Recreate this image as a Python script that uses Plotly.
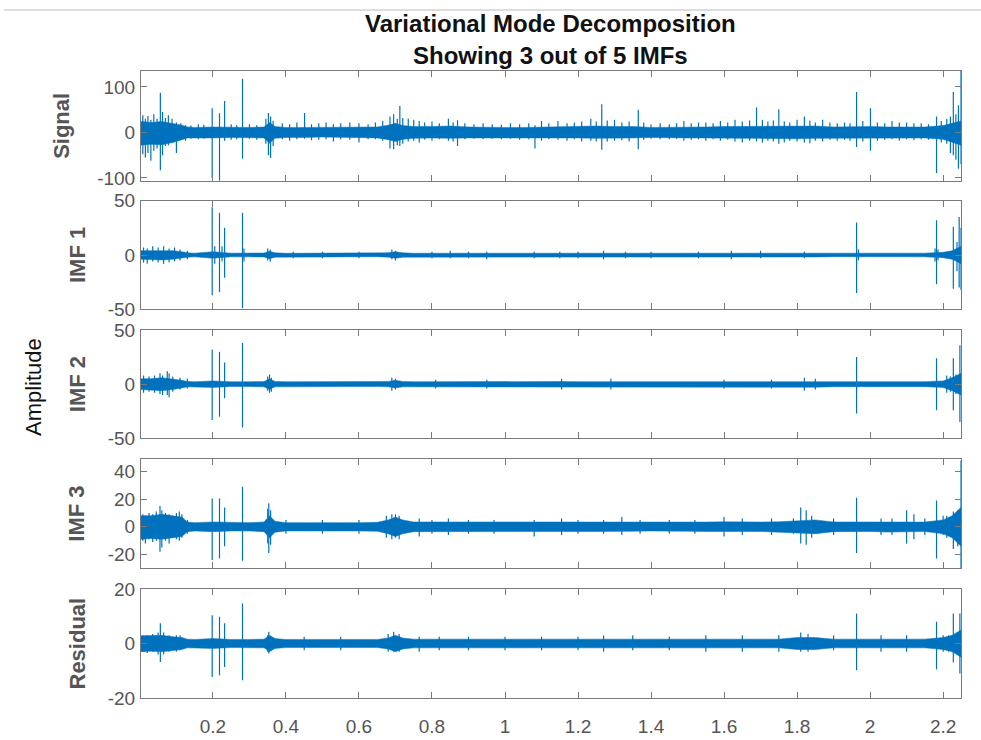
import plotly.graph_objects as go

# ---------------------------------------------------------------------------
# Data: envelope of the dense part of each component (sampled on t_env) and
# the isolated excursions (time, upper value, lower value).
# ---------------------------------------------------------------------------
t_env = [0.003, 0.03, 0.06, 0.09, 0.115, 0.13,
         0.15, 0.2, 0.25, 0.3,
         0.34, 0.355, 0.37,
         0.4, 0.45, 0.5, 0.55, 0.6, 0.65,
         0.68, 0.7, 0.72,
         0.75, 0.8, 0.85, 0.9, 0.95, 1.0, 1.05, 1.1, 1.15, 1.2, 1.25, 1.3, 1.35, 1.4, 1.45,
         1.5, 1.55, 1.6, 1.65, 1.7, 1.75, 1.8, 1.85, 1.9, 1.95, 2.0, 2.05, 2.1, 2.15,
         2.2, 2.225, 2.249]

sig_hi = [24, 22, 24, 20, 16, 12,
          11, 12, 11, 11,
          12, 22, 13,
          11, 11, 11, 11, 11, 12,
          16, 20, 15,
          13, 13, 14, 12, 11, 11, 11, 12, 12, 13, 14, 13, 13, 11, 11,
          12, 12, 13, 13, 14, 14, 14, 14, 12, 13, 13, 12, 12, 12,
          15, 20, 25]
sig_lo = [-28, -26, -27, -22, -16, -12,
          -11, -12, -11, -11,
          -12, -24, -13,
          -11, -11, -10, -11, -11, -12,
          -16, -20, -15,
          -13, -12, -13, -12, -11, -11, -11, -12, -12, -12, -13, -13, -12, -11, -11,
          -12, -12, -12, -13, -13, -13, -14, -13, -12, -12, -13, -12, -12, -12,
          -15, -22, -28]

imf1_hi = [4, 4, 4.5, 4, 3, 2,
           1.7, 3, 1.7, 1.7,
           1.8, 3.5, 2,
           1.6, 1.6, 1.6, 1.6, 1.6, 1.6,
           2, 3, 2,
           1.6, 1.6, 1.7, 1.6, 1.6, 1.6, 1.6, 1.6, 1.6, 1.6, 1.7, 1.7, 1.6, 1.6, 1.6,
           1.6, 1.6, 1.7, 1.7, 1.7, 1.7, 1.8, 1.8, 1.6, 1.8, 1.7, 1.6, 1.6, 1.7,
           2.5, 4, 8]
imf1_lo = [-4, -4.5, -4.5, -4, -3, -2,
           -1.7, -3, -1.7, -1.7,
           -1.8, -3.5, -2,
           -1.6, -1.6, -1.6, -1.6, -1.6, -1.6,
           -2, -3, -2,
           -1.6, -1.6, -1.7, -1.6, -1.6, -1.6, -1.6, -1.6, -1.6, -1.6, -1.7, -1.7, -1.6, -1.6, -1.6,
           -1.6, -1.6, -1.7, -1.7, -1.7, -1.7, -1.8, -1.8, -1.6, -1.8, -1.7, -1.6, -1.6, -1.7,
           -2.5, -4, -8]

imf2_hi = [5, 5, 6, 5, 3.5, 2.5,
           2.2, 3, 2.2, 2.2,
           2.5, 5, 2.5,
           2.2, 2.2, 2.2, 2.2, 2.2, 2.2,
           2.5, 3.5, 2.5,
           2.2, 2.3, 2.2, 2.2, 2.2, 2.2, 2.2, 2.3, 2.4, 2.3, 2.3, 2.4, 2.2, 2.2, 2.2,
           2.3, 2.3, 2.4, 2.4, 2.4, 2.4, 2.8, 2.8, 2.4, 2.4, 2.3, 2.2, 2.2, 2.3,
           3, 6, 10]
imf2_lo = [-5, -5.5, -6, -5, -3.5, -2.5,
           -2.2, -3, -2.2, -2.2,
           -2.5, -5, -2.5,
           -2.2, -2.2, -2.2, -2.2, -2.2, -2.2,
           -2.5, -3.5, -2.5,
           -2.2, -2.3, -2.2, -2.2, -2.2, -2.2, -2.2, -2.3, -2.4, -2.3, -2.3, -2.4, -2.2, -2.2, -2.2,
           -2.3, -2.3, -2.4, -2.4, -2.4, -2.4, -2.8, -2.8, -2.4, -2.4, -2.3, -2.2, -2.2, -2.3,
           -3, -6, -10]

imf3_hi = [8, 8, 9, 8, 7, 3.5,
           3, 3.5, 3, 3,
           3.5, 8, 4,
           3, 3, 3.2, 3, 3, 3.2,
           5, 7, 5,
           3.5, 3.5, 3.5, 3.2, 3, 3, 3.2, 3.2, 3.4, 3.4, 3.4, 3.5, 3.2, 3, 3,
           3.2, 3.4, 3.6, 3.4, 3.4, 3.6, 4.5, 5, 3.5, 3.5, 3.4, 3.8, 3.6, 3.4,
           5, 8, 14]
imf3_lo = [-9, -8.5, -9, -8, -7, -3.5,
           -3, -3.5, -3, -3,
           -3.5, -8, -4,
           -3, -3, -3.2, -3, -3, -3.2,
           -5, -7, -5,
           -3.5, -3.5, -3.5, -3.2, -3, -3, -3.2, -3.2, -3.4, -3.4, -3.4, -3.5, -3.2, -3, -3,
           -3.2, -3.4, -3.6, -3.4, -3.4, -3.6, -4.5, -5, -3.5, -3.5, -3.4, -3.8, -3.6, -3.4,
           -5, -8, -14]

res_hi = [2.8, 2.8, 3, 2.5, 2.2, 1.6,
          1.5, 1.8, 1.5, 1.5,
          1.6, 3, 1.8,
          1.5, 1.5, 1.5, 1.5, 1.5, 1.5,
          2, 3, 2,
          1.6, 1.6, 1.6, 1.5, 1.5, 1.5, 1.5, 1.5, 1.5, 1.5, 1.6, 1.6, 1.5, 1.5, 1.5,
          1.5, 1.6, 1.6, 1.6, 1.6, 1.6, 2.2, 2.2, 1.6, 1.6, 1.6, 1.6, 1.6, 1.6,
          2.2, 3, 5]
res_lo = [-3, -2.8, -3, -2.5, -2.2, -1.6,
          -1.5, -1.8, -1.5, -1.5,
          -1.6, -3, -1.8,
          -1.5, -1.5, -1.5, -1.5, -1.5, -1.5,
          -2, -3, -2,
          -1.6, -1.6, -1.6, -1.5, -1.5, -1.5, -1.5, -1.5, -1.5, -1.5, -1.6, -1.6, -1.5, -1.5, -1.5,
          -1.5, -1.6, -1.6, -1.6, -1.6, -1.6, -2.2, -2.2, -1.6, -1.6, -1.6, -1.6, -1.6, -1.6,
          -2.2, -3, -5]

sig_spk_t = [0.008, 0.015, 0.022, 0.03, 0.038, 0.047, 0.056, 0.062, 0.07, 0.078, 0.088, 0.1, 0.112,
             0.125, 0.14, 0.16, 0.175, 0.198, 0.218, 0.232, 0.25, 0.265, 0.281, 0.3, 0.32, 0.345, 0.352,
             0.358, 0.365, 0.39, 0.41, 0.43, 0.451, 0.47, 0.49, 0.51, 0.53, 0.55, 0.575, 0.6, 0.625,
             0.645, 0.665, 0.685, 0.695, 0.705, 0.712, 0.72, 0.735, 0.75, 0.765, 0.78, 0.8, 0.82, 0.845,
             0.858, 0.87, 0.89, 0.915, 0.94, 0.965, 0.99, 1.015, 1.04, 1.065, 1.082, 1.1, 1.12, 1.145,
             1.17, 1.19, 1.21, 1.235, 1.25, 1.265, 1.28, 1.3, 1.32, 1.34, 1.365, 1.38, 1.4, 1.425, 1.45,
             1.47, 1.49, 1.51, 1.53, 1.55, 1.57, 1.59, 1.61, 1.63, 1.65, 1.67, 1.689, 1.705, 1.72, 1.735,
             1.75, 1.765, 1.78, 1.8, 1.82, 1.835, 1.85, 1.87, 1.89, 1.91, 1.93, 1.945, 1.963, 1.98,
             2.001, 2.02, 2.04, 2.06, 2.08, 2.1, 2.12, 2.14, 2.16, 2.182, 2.195, 2.21, 2.22, 2.228, 2.235,
             2.242, 2.249]
sig_spk_hi = [38, 30, 36, 28, 40, 30, 87, 45, 32, 38, 30, 22, 20, 16, 15, 18, 17, 53, 42, 69, 18, 16,
              118, 18, 16, 30, 43, 35, 25, 20, 18, 22, 43, 18, 20, 22, 18, 20, 22, 20, 18, 22, 25, 35,
              40, 30, 58, 32, 30, 28, 25, 22, 24, 20, 30, 22, 27, 20, 18, 20, 18, 17, 20, 18, 20, 16, 25,
              20, 25, 20, 22, 24, 30, 24, 62, 26, 28, 22, 24, 50, 22, 18, 20, 18, 20, 25, 20, 22, 22, 20,
              25, 22, 28, 24, 26, 55, 28, 24, 26, 51, 24, 22, 28, 35, 26, 22, 28, 22, 20, 22, 20, 89, 25,
              53, 22, 20, 25, 22, 22, 20, 20, 18, 35, 25, 30, 35, 89, 40, 60, 135]
sig_spk_lo = [-48, -55, -45, -62, -40, -35, -83, -50, -30, -28, -22, -45, -15, -18, -14, -15, -14, -100,
              -106, -18, -16, -15, -58, -14, -16, -25, -50, -56, -30, -15, -18, -15, -14, -17, -16, -15,
              -20, -15, -16, -22, -15, -15, -18, -35, -37, -28, -30, -25, -20, -18, -22, -16, -18, -15,
              -18, -20, -30, -15, -14, -15, -14, -15, -14, -16, -15, -35, -18, -15, -16, -18, -15, -20,
              -18, -20, -38, -20, -18, -17, -20, -37, -16, -14, -15, -15, -14, -18, -16, -15, -18, -15,
              -18, -16, -20, -22, -18, -20, -22, -18, -20, -25, -22, -18, -20, -22, -24, -18, -20, -16,
              -18, -16, -18, -32, -20, -40, -18, -16, -15, -18, -15, -17, -15, -16, -89, -22, -25, -45,
              -50, -60, -80, -70]

imf1_spk_t = [0.01, 0.02, 0.035, 0.05, 0.065, 0.08, 0.095, 0.11, 0.13, 0.198, 0.205, 0.218, 0.225,
              0.232, 0.281, 0.285, 0.35, 0.357, 0.42, 0.5, 0.6, 0.69, 0.7, 0.8, 0.85, 0.9, 0.95, 1.08,
              1.15, 1.2, 1.27, 1.33, 1.4, 1.53, 1.62, 1.7, 1.82, 1.963, 1.968, 2.178, 2.182, 2.186, 2.228,
              2.238, 2.244, 2.249]
imf1_spk_hi = [7, 6, 8, 7, 8, 6, 7, 5, 4, 44, 8, 39, 8, 25, 39, 6, 6, 5, 3, 3, 3, 5, 4, 3, 4, 3, 3, 3,
               3, 3, 4, 3, 3, 3, 4, 4, 3, 30, 5, 6, 32, 5, 26, 12, 35, 25]
imf1_spk_lo = [-7, -8, -6, -7, -8, -7, -6, -5, -4, -37, -8, -34, -6, -21, -49, -6, -5, -6, -3, -3, -3,
               -4, -5, -3, -3, -3, -4, -3, -3, -3, -4, -3, -3, -3, -4, -3, -3, -35, -5, -6, -27, -5, -31,
               -15, -30, -32]

imf2_spk_t = [0.01, 0.025, 0.04, 0.055, 0.062, 0.075, 0.08, 0.09, 0.11, 0.13, 0.198, 0.218, 0.232,
              0.281, 0.35, 0.355, 0.36, 0.69, 0.7, 0.81, 0.95, 1.155, 1.29, 1.6, 1.73, 1.82, 1.85, 1.963,
              2.182, 2.21, 2.22, 2.228, 2.235, 2.246]
imf2_spk_hi = [8, 7, 8, 10, 8, 12, 10, 7, 6, 5, 32, 30, 20, 38, 7, 9, 6, 6, 5, 4, 4, 5, 5, 4, 4, 6, 5,
               25, 24, 8, 7, 24, 9, 36]
imf2_spk_lo = [-8, -7, -8, -9, -10, -10, -12, -7, -5, -4, -33, -30, -13, -40, -6, -8, -7, -6, -5, -4,
               -4, -5, -5, -4, -4, -6, -5, -27, -24, -8, -7, -24, -9, -35]

imf3_spk_t = [0.008, 0.015, 0.025, 0.035, 0.045, 0.055, 0.06, 0.07, 0.08, 0.09, 0.1, 0.108, 0.115,
              0.13, 0.198, 0.218, 0.232, 0.281, 0.35, 0.353, 0.358, 0.4, 0.5, 0.6, 0.675, 0.69, 0.7,
              0.71, 0.765, 0.8, 0.845, 0.9, 0.97, 1.08, 1.155, 1.2, 1.27, 1.32, 1.37, 1.45, 1.52, 1.6,
              1.65, 1.73, 1.79, 1.81, 1.825, 1.84, 1.9, 1.963, 2.03, 2.06, 2.1, 2.12, 2.15, 2.182, 2.2,
              2.21, 2.228, 2.24, 2.249]
imf3_spk_hi = [9, 8, 10, 9, 11, 15, 12, 10, 9, 8, 10, 11, 9, 5, 20.5, 20.5, 14, 29, 13, 17, 12, 5, 5, 5,
               8, 9, 9, 8, 6, 5, 6, 5, 5, 5, 6, 5, 5, 7, 5, 5, 5, 7, 6, 6, 6, 14, 12, 8, 6, 21, 6, 6, 12,
               9, 6, 19, 8, 8, 11, 12, 48]
imf3_spk_lo = [-10, -12, -9, -11, -10, -18, -15, -10, -12, -8, -9, -10, -8, -5, -24, -23, -14, -24.5,
               -12, -19, -13, -5, -5, -5, -8, -9, -8, -9, -7, -5, -6, -5, -5, -7, -6, -5, -5, -6, -5, -5,
               -5, -7, -6, -6, -5, -12, -13, -8, -6, -19, -6, -6, -12, -9, -6, -23, -6, -8, -16, -14, -30]

res_spk_t = [0.008, 0.02, 0.035, 0.05, 0.056, 0.065, 0.08, 0.1, 0.11, 0.198, 0.218, 0.232, 0.281, 0.35,
             0.353, 0.45, 0.55, 0.68, 0.695, 0.71, 0.765, 0.82, 0.9, 1.0, 1.1, 1.2, 1.27, 1.35, 1.45, 1.55,
             1.65, 1.75, 1.81, 1.83, 1.9, 1.963, 2.03, 2.1, 2.182, 2.2, 2.215, 2.228, 2.24, 2.246]
res_spk_hi = [3, 3, 3.5, 4, 7.4, 4, 3, 3, 3, 10.4, 9.8, 7.4, 14.7, 3, 4.3, 2.5, 2.5, 3.5, 4.3, 3.5, 2.5,
              2.5, 2.5, 2.5, 2.5, 2.5, 3, 3, 2.5, 3, 3, 3, 4, 3.5, 3, 11, 3, 3, 8, 3, 3, 11, 4, 11]
res_spk_lo = [-3, -3.5, -3, -4, -6.8, -4, -3, -3, -2.5, -12.3, -11.7, -8.6, -13.5, -3, -3.7, -2.5, -2.5,
              -3, -3, -3, -3, -2.5, -2.5, -2.5, -2.5, -2.5, -3, -2.5, -2.5, -3, -3, -3, -3, -3, -2.5,
              -9.8, -3, -3, -9.5, -3, -3, -7, -4, -11]

row_titles = ["Signal", "IMF 1", "IMF 2", "IMF 3", "Residual"]
y_ranges = [[-106, 135], [-50, 50], [-50, 50], [-30, 49], [-20, 20]]
y_ticks = [[-100, 0, 100], [-50, 0, 50], [-50, 0, 50], [-20, 0, 20, 40], [-20, 0, 20]]
y_tick_text = [["-100", "0", "100"], ["-50", "0", "50"], ["-50", "0", "50"],
               ["-20", "0", "20", "40"], ["-20", "0", "20"]]
x_ticks = [0.2, 0.4, 0.6, 0.8, 1.0, 1.2, 1.4, 1.6, 1.8, 2.0, 2.2]
x_tick_text = ["0.2", "0.4", "0.6", "0.8", "1", "1.2", "1.4", "1.6", "1.8", "2", "2.2"]
t_range = [0.003, 2.249]

components = [
    (sig_hi, sig_lo, sig_spk_t, sig_spk_hi, sig_spk_lo),
    (imf1_hi, imf1_lo, imf1_spk_t, imf1_spk_hi, imf1_spk_lo),
    (imf2_hi, imf2_lo, imf2_spk_t, imf2_spk_hi, imf2_spk_lo),
    (imf3_hi, imf3_lo, imf3_spk_t, imf3_spk_hi, imf3_spk_lo),
    (res_hi, res_lo, res_spk_t, res_spk_hi, res_spk_lo),
]

# ---------------------------------------------------------------------------
# Layout geometry (pixels) and styling
# ---------------------------------------------------------------------------
W, H = 981, 740
M_L, M_R, M_T, M_B = 141, 20, 71, 42
plot_h = H - M_T - M_B
# top/bottom pixel rows of each panel
panel_px = [(71.0, 180.7), (200.7, 309.3), (330.0, 438.3), (459.0, 568.3), (589.0, 698.0)]

BLUE = "#0072BD"
AX_COL = "#7a7a7a"
TXT_COL = "#555555"
FONT = "Liberation Sans, Arial, Helvetica, sans-serif"


def to_paper_y(py):
    return (H - M_B - py) / plot_h


def clamp01(v):
    return min(1.0, max(0.0, v))


fig = go.Figure()

for k, (hi, lo, st, sh, sl) in enumerate(components):
    xa = "x" if k == 0 else f"x{k + 1}"
    ya = "y" if k == 0 else f"y{k + 1}"
    # dense core of the trace as a filled envelope
    fig.add_trace(go.Scatter(
        x=list(t_env) + list(t_env[::-1]),
        y=list(hi) + list(lo[::-1]),
        fill="toself", fillcolor=BLUE, mode="lines",
        line=dict(color=BLUE, width=0.5),
        xaxis=xa, yaxis=ya, hoverinfo="skip", showlegend=False,
    ))
    # isolated excursions
    sx, sy = [], []
    for t, a, b in zip(st, sh, sl):
        sx += [t, t, None]
        sy += [b, a, None]
    fig.add_trace(go.Scatter(
        x=sx, y=sy, mode="lines", line=dict(color=BLUE, width=1.2),
        xaxis=xa, yaxis=ya, hoverinfo="skip", showlegend=False,
    ))

layout = dict(
    width=W, height=H,
    margin=dict(l=M_L, r=M_R, t=M_T, b=M_B, autoexpand=False),
    paper_bgcolor="white", plot_bgcolor="white",
    font=dict(family=FONT, size=18, color=TXT_COL),
    showlegend=False,
)

for k in range(5):
    top, bot = panel_px[k]
    xname = "xaxis" if k == 0 else f"xaxis{k + 1}"
    yname = "yaxis" if k == 0 else f"yaxis{k + 1}"
    ya = "y" if k == 0 else f"y{k + 1}"
    xa = "x" if k == 0 else f"x{k + 1}"
    last = k == 4
    layout[xname] = dict(
        domain=[0, 1], anchor=ya, range=t_range, automargin=False,
        tickmode="array", tickvals=x_ticks, ticktext=x_tick_text,
        ticks="inside", ticklen=6, tickwidth=1, tickcolor=AX_COL,
        showline=True, linecolor=AX_COL, linewidth=1, mirror="ticks",
        showgrid=False, zeroline=False, showticklabels=last,
        tickfont=dict(size=19, color=TXT_COL), ticklabelstandoff=11,
    )
    layout[yname] = dict(
        domain=[clamp01(to_paper_y(bot)), clamp01(to_paper_y(top))], anchor=xa,
        range=y_ranges[k], automargin=False,
        tickmode="array", tickvals=y_ticks[k], ticktext=y_tick_text[k],
        ticks="inside", ticklen=6, tickwidth=1, tickcolor=AX_COL,
        showline=True, linecolor=AX_COL, linewidth=1, mirror="ticks",
        showgrid=False, zeroline=False,
        tickfont=dict(size=19, color=TXT_COL), ticklabelstandoff=1,
    )

fig.update_layout(**layout)

# panel labels (rotated, bold)
label_x = [62, 77, 77, 77, 77]
annotations = []
for k, name in enumerate(row_titles):
    top, bot = panel_px[k]
    annotations.append(dict(
        text=f"<b>{name}</b>", textangle=-90, showarrow=False,
        xref="paper", yref="paper", x=0, y=to_paper_y((top + bot) / 2),
        xshift=label_x[k] - M_L, xanchor="center", yanchor="middle",
        font=dict(family=FONT, size=22, color=TXT_COL),
    ))

annotations.append(dict(
    text="Amplitude", textangle=-90, showarrow=False,
    xref="paper", yref="paper", x=0, y=to_paper_y(387),
    xshift=33 - M_L, xanchor="center", yanchor="middle",
    font=dict(family=FONT, size=22, color="#111111"),
))

for line_text, py in [("Variational Mode Decomposition", 23), ("Showing 3 out of 5 IMFs", 55)]:
    annotations.append(dict(
        text=f"<b>{line_text}</b>", showarrow=False,
        xref="paper", yref="paper", x=(550 - M_L) / (W - M_L - M_R), y=1,
        yshift=M_T - py, xanchor="center", yanchor="middle",
        font=dict(family=FONT, size=24, color="#111111"),
    ))

fig.update_layout(annotations=annotations)

# thin separator line along the top edge of the figure
fig.add_shape(type="line", xref="paper", yref="paper",
              x0=(4 - M_L) / (W - M_L - M_R), x1=(W - M_L) / (W - M_L - M_R),
              y0=to_paper_y(10), y1=to_paper_y(10),
              line=dict(color="#dddddd", width=2))

fig.write_html("out.html")
